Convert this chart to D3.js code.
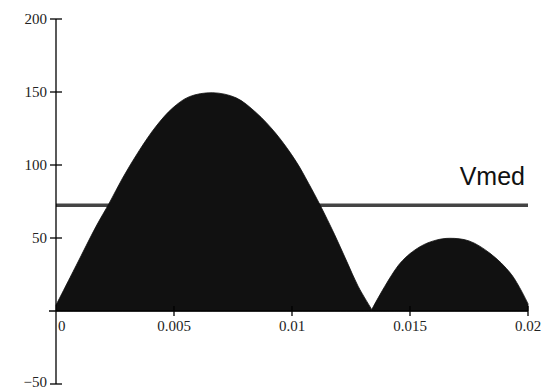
<!DOCTYPE html>
<html>
<head>
<meta charset="utf-8">
<script src="https://cdn.jsdelivr.net/npm/d3@7"></script>
<style>
  body { margin: 0; background: #fff; }
  svg { display: block; }
  .tick-label { font-family: "Liberation Serif", "Times New Roman", serif; font-size: 15px; fill: #222; }
</style>
</head>
<body>
<svg id="chart" width="549" height="389"></svg>
<script>
// values (time in s, voltage)
const hump1T = [0, 0.00085, 0.0017, 0.00226, 0.00282, 0.00353, 0.00424, 0.00494, 0.00565, 0.00664, 0.00763, 0.00847, 0.00932, 0.01017, 0.0107, 0.01119, 0.0118, 0.01232, 0.0128, 0.01338];
const hump1V = [4, 31, 58, 74, 91, 110, 126.5, 139, 146.8, 149.5, 146, 136, 121.5, 102.5, 87.5, 72.6, 52.5, 34, 17, 1];
const hump2T = [0.01338, 0.01458, 0.01542, 0.0161, 0.01669, 0.0175, 0.01839, 0.0193, 0.02];
const hump2V = [1, 32.7, 44, 48.5, 49.8, 48, 39.5, 25, 5];
const vmed = 72.5;
const xTicks = [0, 0.005, 0.01, 0.015, 0.02];
const xTickLabels = ["0", "0.005", "0.01", "0.015", "0.02"];
const yTicks = [-50, 50, 100, 150, 200];
const yTickLabels = ["\u221250", "50", "100", "150", "200"];

const svg = d3.select("#chart");

const x = d3.scaleLinear().domain([0, 0.02]).range([56, 528]);
const y = d3.scaleLinear().domain([-50, 200]).range([384, 19]);

// average line goes behind the waveform
svg.append("line")
    .attr("x1", x(0)).attr("x2", x(0.02))
    .attr("y1", y(vmed)).attr("y2", y(vmed))
    .style("stroke", "#444")
    .style("stroke-width", 3.5);

const area = d3.area()
    .x(d => x(d[0]))
    .y0(y(0))
    .y1(d => y(d[1]))
    .curve(d3.curveCatmullRom.alpha(0.5));

[[hump1T, hump1V], [hump2T, hump2V]].forEach(([ts, vs]) => {
    svg.append("path")
        .datum(ts.map((t, i) => [t, vs[i]]))
        .attr("d", area)
        .style("fill", "#111")
        .style("stroke", "#111")
        .style("stroke-width", 0.8);
});

// axes, ticks crossing the axis line
const g = svg.append("g").style("stroke", "#000").style("stroke-width", 1.3);
g.append("line").attr("x1", x(0)).attr("x2", x(0)).attr("y1", y(200)).attr("y2", y(-50));
g.append("line").attr("x1", x(0) - 7).attr("x2", x(0.02)).attr("y1", y(0)).attr("y2", y(0));

g.selectAll(".ytick").data(yTicks).enter().append("line")
    .attr("x1", x(0) - 6).attr("x2", x(0) + 6)
    .attr("y1", d => y(d)).attr("y2", d => y(d));

g.selectAll(".xtick").data(xTicks.slice(1)).enter().append("line")
    .attr("x1", d => x(d)).attr("x2", d => x(d))
    .attr("y1", y(0) - 5).attr("y2", y(0) + 5);

svg.selectAll(".ylab").data(yTicks).enter().append("text")
    .attr("class", "tick-label")
    .attr("x", x(0) - 9)
    .attr("y", d => d === -50 ? y(d) - 2 : y(d))
    .attr("dy", "0.35em")
    .attr("text-anchor", "end")
    .text((d, i) => yTickLabels[i]);

svg.selectAll(".xlab").data(xTicks).enter().append("text")
    .attr("class", "tick-label")
    .attr("x", (d, i) => i === 0 ? x(d) + 2 : x(d))
    .attr("y", y(0) + 20)
    .attr("text-anchor", (d, i) => i === 0 ? "start" : "middle")
    .text((d, i) => xTickLabels[i]);

svg.append("text")
    .attr("x", 525)
    .attr("y", 185)
    .attr("text-anchor", "end")
    .style("font-family", "Liberation Sans, Arial, sans-serif")
    .style("font-size", "25px")
    .style("fill", "#111")
    .text("Vmed");
</script>
</body>
</html>
